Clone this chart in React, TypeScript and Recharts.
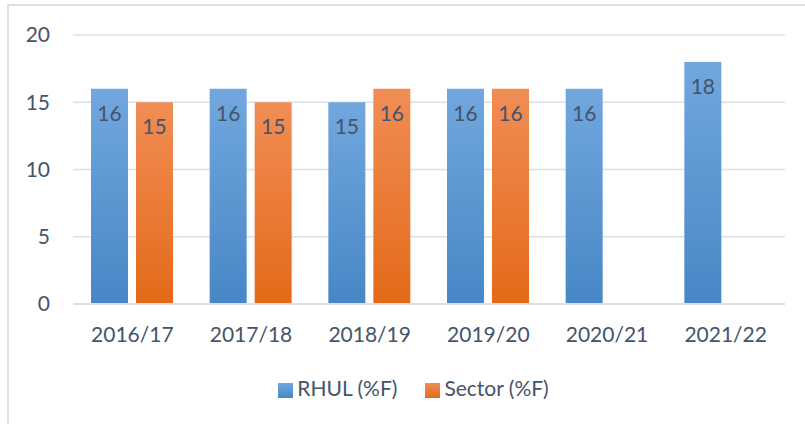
import { BarChart, Bar, XAxis, YAxis, CartesianGrid, Legend, LabelList } from "recharts";

const years = ["2016/17", "2017/18", "2018/19", "2019/20", "2020/21", "2021/22"];
const rhul = [16, 16, 15, 16, 16, 18];
const sector: (number | null)[] = [15, 15, 16, 16, null, null];
const yTicks = [0, 5, 10, 15, 20];

const data = years.map((year, i) => ({ year, rhul: rhul[i], sector: sector[i] }));

const FONT = "Lato, 'Open Sans', sans-serif";
const TEXT = "#44546A";
const GRID = "#DCE0E6";

export default function App() {
  return (
    <div style={{ position: "absolute", left: 0, top: 0, width: 805, height: 424, background: "#fff", overflow: "hidden", fontFamily: FONT }}>
      <div style={{ position: "absolute", left: 7, top: 4, width: 900, height: 500, borderTop: `2px solid ${GRID}`, borderLeft: `2px solid ${GRID}` }} />
      <BarChart width={805} height={424} data={data} margin={{ top: 35, right: 20, left: 0, bottom: 0 }} barSize={37} barGap={8}>
        <defs>
          <linearGradient id="gBlue" x1="0" y1="0" x2="0" y2="1">
            <stop offset="0%" stopColor="#72A7DE" />
            <stop offset="100%" stopColor="#4787C6" />
          </linearGradient>
          <linearGradient id="gOrange" x1="0" y1="0" x2="0" y2="1">
            <stop offset="0%" stopColor="#F18D56" />
            <stop offset="100%" stopColor="#E36A18" />
          </linearGradient>
        </defs>
        <CartesianGrid vertical={false} stroke={GRID} strokeWidth={1.5} />
        <XAxis
          dataKey="year"
          height={120}
          tickLine={false}
          tickSize={0}
          tickMargin={23}
          axisLine={{ stroke: GRID, strokeWidth: 2 }}
          tick={{ fill: TEXT, fontSize: 21, fontFamily: FONT }}
        />
        <YAxis
          width={73}
          domain={[0, 20]}
          ticks={yTicks}
          axisLine={false}
          tickLine={false}
          tickSize={0}
          tickMargin={23}
          tick={{ fill: TEXT, fontSize: 21, fontFamily: FONT }}
        />
        <Legend
          layout="horizontal"
          verticalAlign="middle"
          align="center"
          iconType="square"
          iconSize={15}
          wrapperStyle={{ top: 375, left: 25, width: 805, fontFamily: FONT, fontSize: 21 }}
          formatter={(value) => <span style={{ color: TEXT, marginRight: 18 }}>{value}</span>}
        />
        <Bar dataKey="rhul" name="RHUL (%F)" fill="url(#gBlue)" isAnimationActive={false}>
          <LabelList dataKey="rhul" position="insideTop" offset={17} fill={TEXT} fontSize={21} fontFamily={FONT} />
        </Bar>
        <Bar dataKey="sector" name="Sector (%F)" fill="url(#gOrange)" isAnimationActive={false}>
          <LabelList dataKey="sector" position="insideTop" offset={17} fill={TEXT} fontSize={21} fontFamily={FONT} />
        </Bar>
      </BarChart>
    </div>
  );
}
